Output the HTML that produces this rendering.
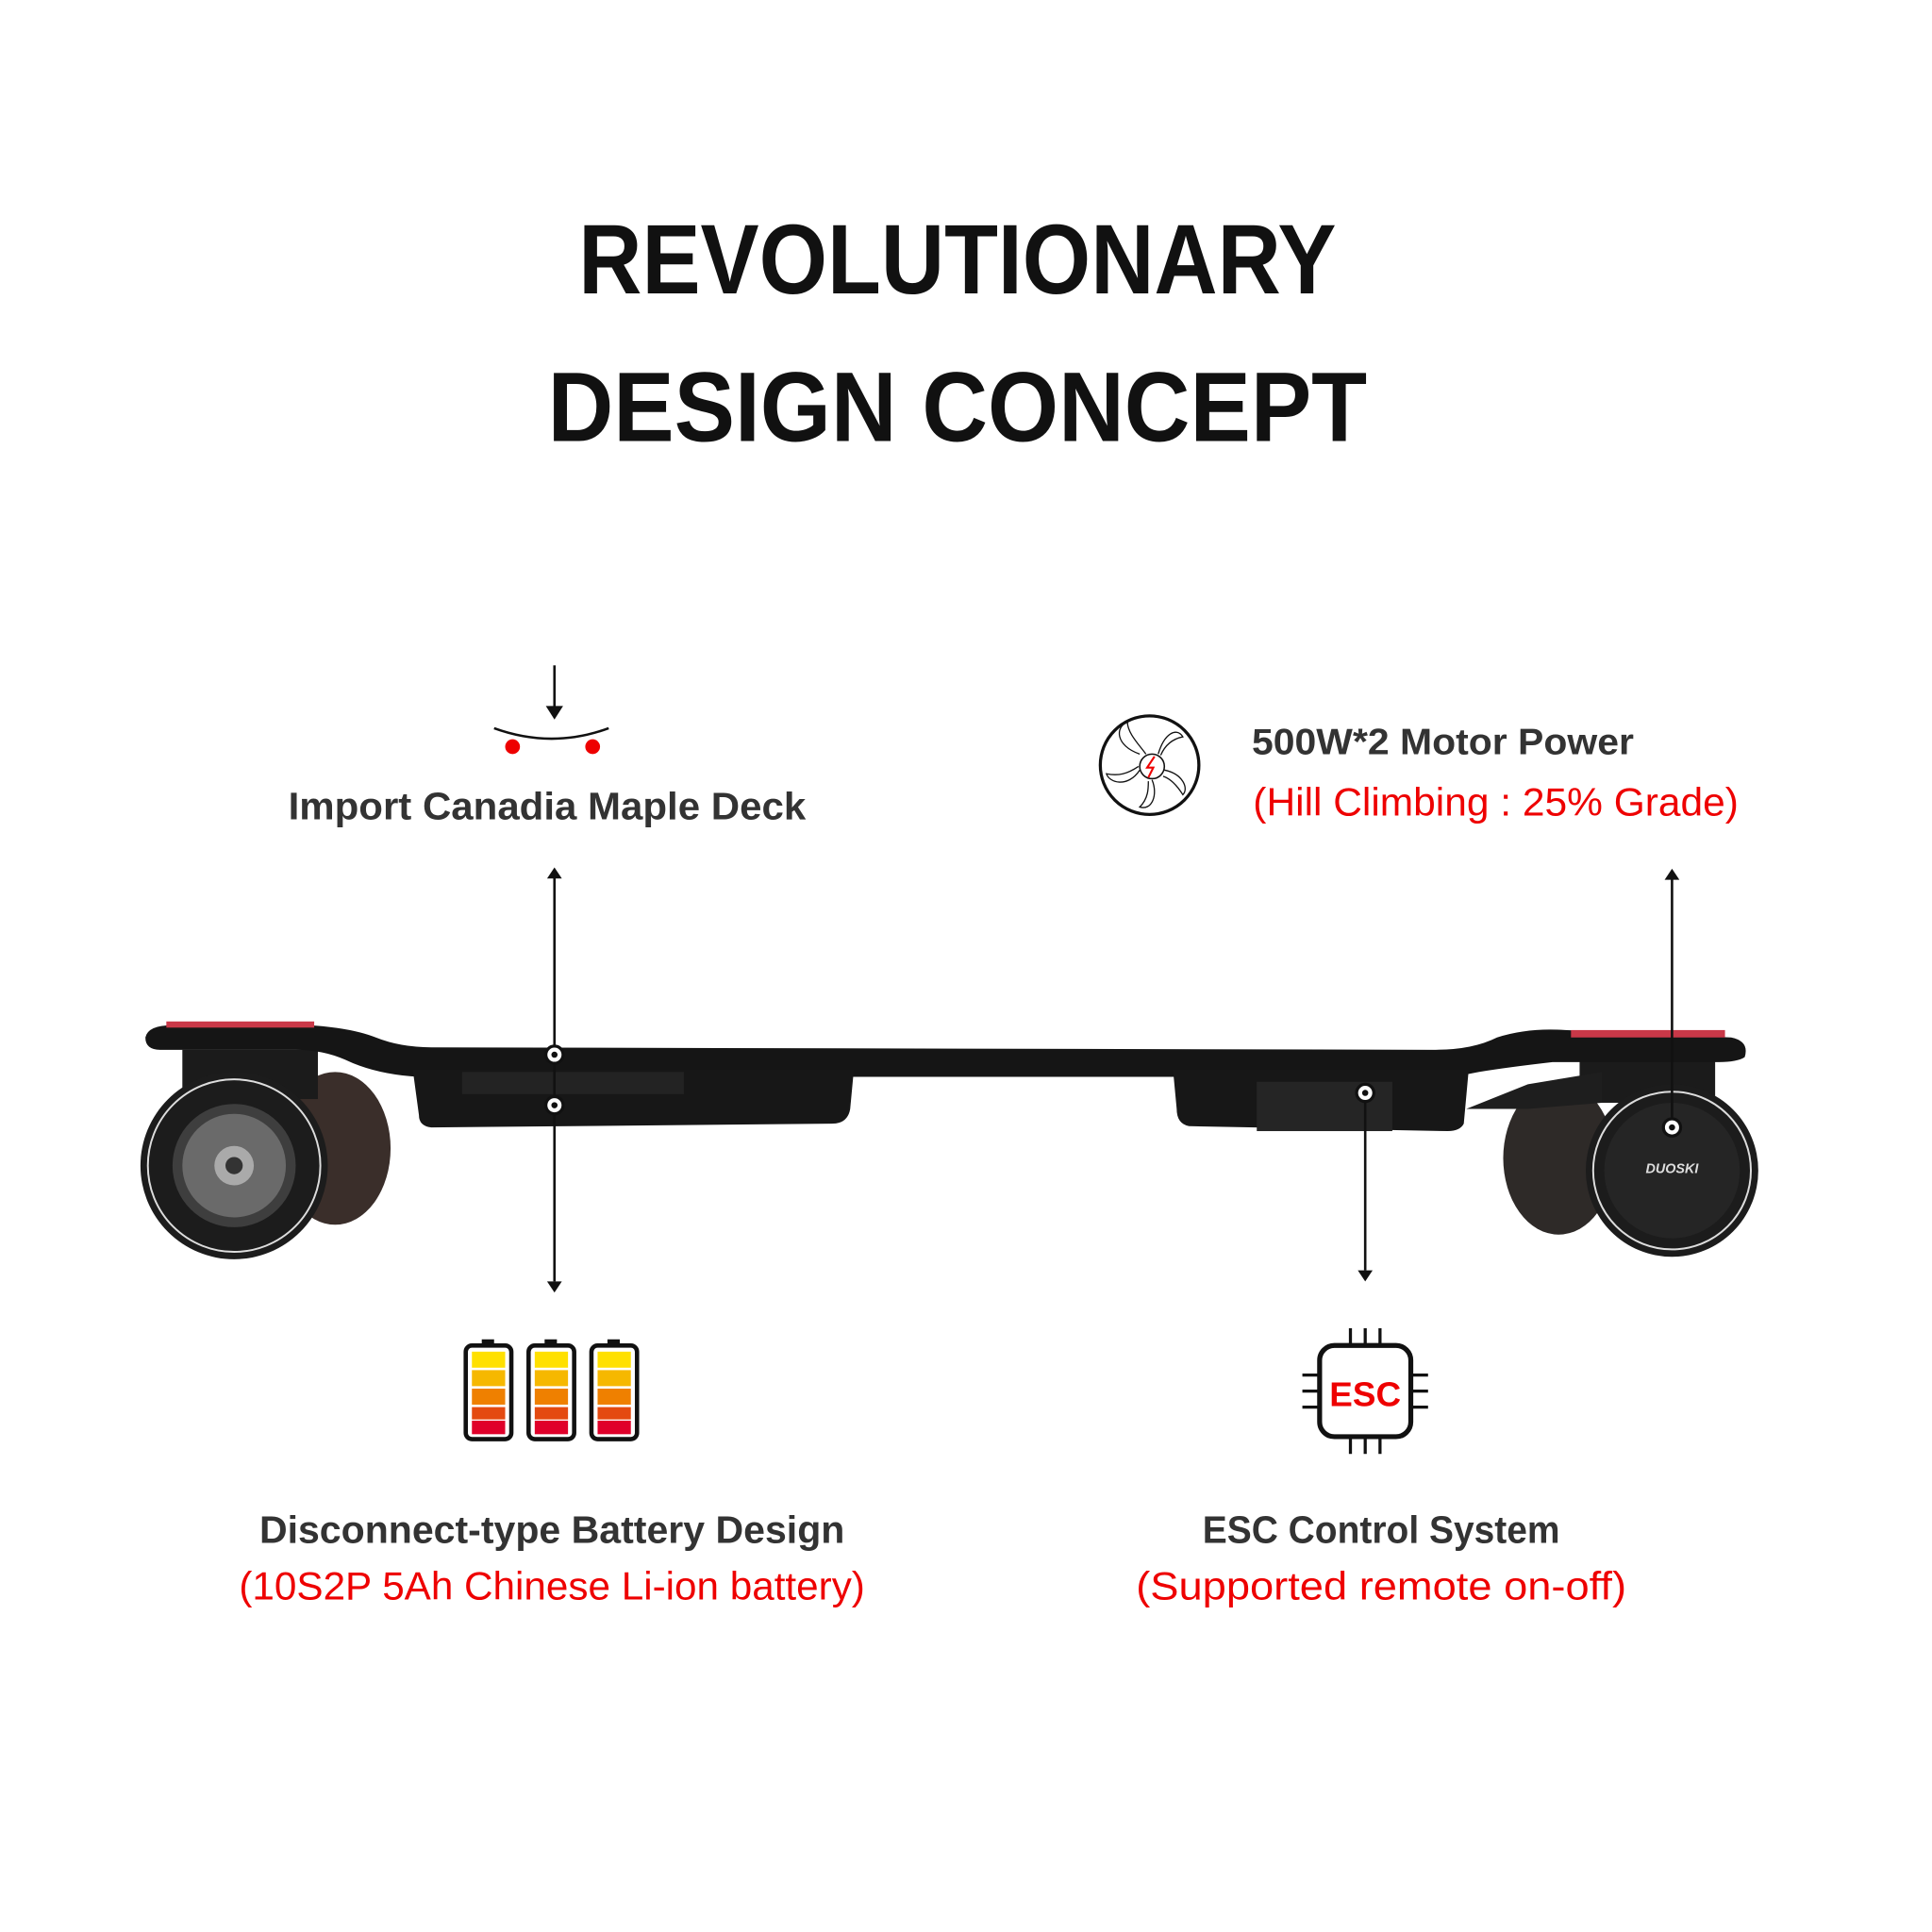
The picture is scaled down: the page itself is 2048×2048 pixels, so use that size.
<!DOCTYPE html>
<html><head><meta charset="utf-8"><style>
html,body{margin:0;padding:0;background:#fff;}
svg{display:block;}
text{font-family:"Liberation Sans",sans-serif;}
</style></head><body>
<svg width="2048" height="2048" viewBox="0 0 1568 1568" xmlns="http://www.w3.org/2000/svg">
<rect width="1568" height="1568" fill="#fff"/>
<text x="777" y="238" font-size="80" font-weight="bold" text-anchor="middle" textLength="615" lengthAdjust="spacingAndGlyphs" fill="#111">REVOLUTIONARY</text>
<text x="777" y="358" font-size="80" font-weight="bold" text-anchor="middle" textLength="665" lengthAdjust="spacingAndGlyphs" fill="#111">DESIGN CONCEPT</text>

<line x1="450" y1="540" x2="450" y2="574" stroke="#111" stroke-width="2"/>
<polygon points="443,573 457,573 450,584" fill="#111"/>
<path d="M401,591 Q448,608 494,591" fill="none" stroke="#111" stroke-width="2"/>
<circle cx="416" cy="606" r="6" fill="#e00"/>
<circle cx="481" cy="606" r="6" fill="#e00"/>
<text x="444" y="665" font-size="31" font-weight="bold" text-anchor="middle" textLength="420" lengthAdjust="spacingAndGlyphs" fill="#333">Import Canadia Maple Deck</text>

<g stroke="#111" fill="none">
<circle cx="933" cy="621" r="40" stroke-width="2.5"/>
<circle cx="935" cy="622" r="10" stroke-width="1.2"/>
<path d="M925,612 C905,605 905,590 915,586 C915,595 925,605 930,612" stroke-width="1"/>
<path d="M940,612 C945,595 955,590 960,598 C950,600 945,606 942,613" stroke-width="1"/>
<path d="M945,625 C960,628 965,640 960,645 C955,637 950,632 944,630" stroke-width="1"/>
<path d="M935,633 C940,645 935,658 925,655 C932,648 932,640 932,634" stroke-width="1"/>
<path d="M925,625 C915,640 900,635 898,628 C908,630 915,628 924,622" stroke-width="1"/>
</g>
<path d="M937,614 L931,623 L936,623 L932,631" stroke="#e00" stroke-width="1.6" fill="none"/>
<text x="1016" y="612" font-size="30" font-weight="bold" textLength="310" lengthAdjust="spacingAndGlyphs" fill="#333">500W*2 Motor Power</text>
<text x="1017" y="662" font-size="32" textLength="394" lengthAdjust="spacingAndGlyphs" fill="#e00">(Hill Climbing : 25% Grade)</text>

<ellipse cx="272" cy="932" rx="45" ry="62" fill="#3a2e2a"/>
<ellipse cx="1265" cy="940" rx="45" ry="62" fill="#2e2a28"/>
<rect x="148" y="852" width="110" height="40" fill="#1b1b1b"/>
<rect x="1282" y="855" width="110" height="40" fill="#1b1b1b"/>
<path d="M1190,900 L1240,880 L1300,870 L1300,895 L1240,900 Z" fill="#1e1e1e"/>
<path d="M118,842 Q120,832 140,832 L250,832 Q285,834 305,842 Q325,850 350,850 L1165,852 Q1195,852 1215,842 Q1240,834 1270,836 L1405,842 Q1420,845 1416,858 Q1410,862 1395,862 L1260,862 Q1225,866 1200,870 L1180,874 L340,874 Q305,872 280,860 Q262,852 240,852 L130,852 Q118,852 118,842 Z" fill="#151515"/>
<rect x="135" y="829" width="120" height="5" fill="#c93848"/>
<rect x="1275" y="836" width="125" height="6" fill="#c93848"/>
<path d="M335,868 L693,868 L690,900 Q688,912 675,912 L350,915 Q340,914 340,905 Z" fill="#171717"/>
<rect x="375" y="870" width="180" height="18" fill="#232323"/>
<path d="M952,868 L1192,868 L1188,912 Q1185,918 1175,918 L965,914 Q955,912 955,900 Z" fill="#171717"/>
<rect x="1020" y="878" width="110" height="40" fill="#252525"/>
<circle cx="190" cy="946" r="76" fill="#1c1c1c"/>
<circle cx="190" cy="946" r="70" fill="none" stroke="#ddd" stroke-width="1.5"/>
<circle cx="190" cy="946" r="50" fill="#3e3e3e"/>
<circle cx="190" cy="946" r="42" fill="#6a6a6a"/>
<circle cx="190" cy="946" r="16" fill="#aaa"/>
<circle cx="190" cy="946" r="7" fill="#333"/>
<circle cx="1357" cy="950" r="70" fill="#1c1c1c"/>
<circle cx="1357" cy="950" r="64" fill="none" stroke="#ddd" stroke-width="1.5"/>
<circle cx="1357" cy="950" r="55" fill="#252525"/>
<text x="1357" y="952" font-size="11" font-weight="bold" text-anchor="middle" fill="#ddd" font-style="italic">DUOSKI</text>

<line x1="450" y1="712" x2="450" y2="1040" stroke="#111" stroke-width="2"/>
<polygon points="444,713 456,713 450,704" fill="#111"/>
<polygon points="444,1040 456,1040 450,1049" fill="#111"/>
<line x1="1357" y1="713" x2="1357" y2="915" stroke="#111" stroke-width="2"/>
<polygon points="1351,714 1363,714 1357,705" fill="#111"/>
<line x1="1108" y1="887" x2="1108" y2="1031" stroke="#111" stroke-width="2"/>
<polygon points="1102,1031 1114,1031 1108,1040" fill="#111"/>
<g fill="#fff" stroke="#111">
<circle cx="450" cy="856" r="7" stroke-width="2.5"/><circle cx="450" cy="856" r="2.5" fill="#111" stroke="none"/>
<circle cx="450" cy="897" r="7" stroke-width="2.5"/><circle cx="450" cy="897" r="2.5" fill="#111" stroke="none"/>
<circle cx="1108" cy="887" r="7" stroke-width="2.5"/><circle cx="1108" cy="887" r="2.5" fill="#111" stroke="none"/>
<circle cx="1357" cy="915" r="7" stroke-width="2.5"/><circle cx="1357" cy="915" r="2.5" fill="#111" stroke="none"/>
</g>

<g id="bat">
<rect x="391" y="1087" width="10" height="6" fill="#111"/>
<rect x="378" y="1092" width="37" height="76" rx="5" fill="#fff" stroke="#111" stroke-width="3.5"/>
<rect x="383" y="1097" width="27" height="13" fill="#ffe000"/>
<rect x="383" y="1112" width="27" height="13" fill="#f6b800"/>
<rect x="383" y="1127" width="27" height="13" fill="#ef8000"/>
<rect x="383" y="1142" width="27" height="10" fill="#e44a10"/>
<rect x="383" y="1153" width="27" height="11" fill="#e0002a"/>
</g>
<use href="#bat" x="51"/>
<use href="#bat" x="102"/>

<g stroke="#111" stroke-width="2.5" fill="none">
<rect x="1071" y="1092" width="74" height="74" rx="12" fill="#fff" stroke-width="4"/>
<line x1="1096" y1="1078" x2="1096" y2="1092"/><line x1="1108" y1="1078" x2="1108" y2="1092"/><line x1="1120" y1="1078" x2="1120" y2="1092"/>
<line x1="1096" y1="1166" x2="1096" y2="1180"/><line x1="1108" y1="1166" x2="1108" y2="1180"/><line x1="1120" y1="1166" x2="1120" y2="1180"/>
<line x1="1057" y1="1116" x2="1071" y2="1116"/><line x1="1057" y1="1129" x2="1071" y2="1129"/><line x1="1057" y1="1142" x2="1071" y2="1142"/>
<line x1="1145" y1="1116" x2="1159" y2="1116"/><line x1="1145" y1="1129" x2="1159" y2="1129"/><line x1="1145" y1="1142" x2="1159" y2="1142"/>
</g>
<text x="1108" y="1141" font-size="28" font-weight="bold" text-anchor="middle" textLength="58" lengthAdjust="spacingAndGlyphs" fill="#e00">ESC</text>

<text x="448" y="1252" font-size="31" font-weight="bold" text-anchor="middle" textLength="475" lengthAdjust="spacingAndGlyphs" fill="#333">Disconnect-type Battery Design</text>
<text x="448" y="1298" font-size="32" text-anchor="middle" textLength="508" lengthAdjust="spacingAndGlyphs" fill="#e00">(10S2P 5Ah Chinese Li-ion battery)</text>
<text x="1121" y="1252" font-size="31" font-weight="bold" text-anchor="middle" textLength="290" lengthAdjust="spacingAndGlyphs" fill="#333">ESC Control System</text>
<text x="1121" y="1298" font-size="32" text-anchor="middle" textLength="398" lengthAdjust="spacingAndGlyphs" fill="#e00">(Supported remote on-off)</text>
</svg>
</body></html>
